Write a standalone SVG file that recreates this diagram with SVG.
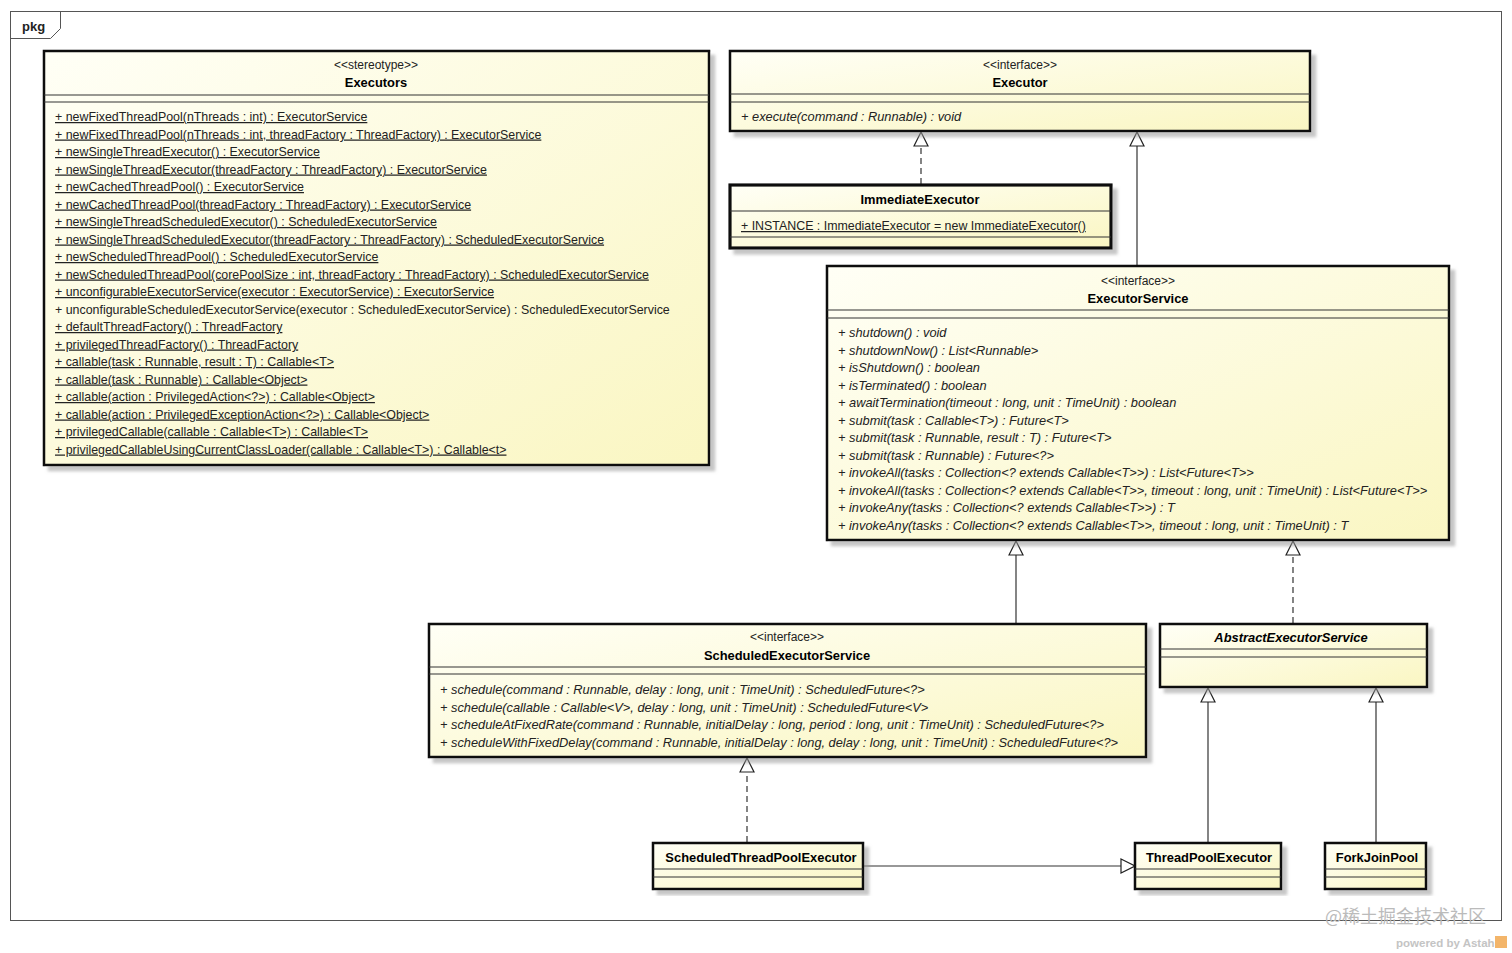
<svg xmlns="http://www.w3.org/2000/svg" width="1512" height="953" viewBox="0 0 1512 953">
<defs>
<linearGradient id="g" x1="0" y1="0" x2="1" y2="1">
<stop offset="0" stop-color="#FFFFF6"/>
<stop offset="1" stop-color="#FAF6C2"/>
</linearGradient>
<filter id="sh" x="-5%" y="-5%" width="115%" height="120%">
<feDropShadow dx="5" dy="5" stdDeviation="1.5" flood-color="#999" flood-opacity="0.55"/>
</filter>
<marker id="tri" viewBox="0 0 16 16" refX="15" refY="8" markerWidth="16" markerHeight="16" markerUnits="userSpaceOnUse" orient="auto">
<path d="M1,1 L15,8 L1,15 Z" fill="#fff" stroke="#222" stroke-width="1.2"/>
</marker>
</defs>
<style>
.box{fill:url(#g);stroke:#111;stroke-width:2.5;filter:url(#sh)}
.sep{stroke:#333;stroke-width:1.2;fill:none}
text{font-family:"Liberation Sans",Arial,sans-serif;font-size:12.4px;fill:#222}
.st{text-anchor:middle;font-size:12px}
.nm{text-anchor:middle;font-weight:bold;font-size:12.9px;fill:#000}
.u{text-decoration:underline}
.i{font-style:italic;font-size:12.8px}
.c{stroke:#333;stroke-width:1.2;fill:none;marker-end:url(#tri)}
.d{stroke-dasharray:6,4}
</style>
<rect x="0" y="0" width="1512" height="953" fill="#fff"/>
<g id="pkg">
<rect x="10.5" y="11.5" width="1491" height="909" fill="none" stroke="#555" stroke-width="1"/>
<path d="M10.5,38.5 L50.5,38.5 L60.5,28.5 L60.5,11.5" fill="none" stroke="#555" stroke-width="1"/>
<text x="22" y="31" style="font-weight:bold;font-size:13px">pkg</text>
</g>
<g id="connectors">
<line class="c d" x1="921" y1="184" x2="921" y2="132"/>
<line class="c" x1="1137" y1="265" x2="1137" y2="132"/>
<line class="c" x1="1016" y1="623" x2="1016" y2="541"/>
<line class="c d" x1="1293" y1="623" x2="1293" y2="541"/>
<line class="c d" x1="747" y1="842" x2="747" y2="758"/>
<line class="c" x1="864" y1="866" x2="1135" y2="866"/>
<line class="c" x1="1208" y1="842" x2="1208" y2="688"/>
<line class="c" x1="1376" y1="842" x2="1376" y2="688"/>
</g>
<g id="Executors">
<rect class="box" x="44" y="51" width="665" height="414"/>
<text class="st" x="376" y="69">&lt;&lt;stereotype&gt;&gt;</text>
<text class="nm" x="376" y="87">Executors</text>
<line class="sep" x1="44" y1="95" x2="709" y2="95"/>
<line class="sep" x1="44" y1="102" x2="709" y2="102"/>
<text class="u" x="55" y="121">+ newFixedThreadPool(nThreads : int) : ExecutorService</text>
<text class="u" x="55" y="138.5">+ newFixedThreadPool(nThreads : int, threadFactory : ThreadFactory) : ExecutorService</text>
<text class="u" x="55" y="156">+ newSingleThreadExecutor() : ExecutorService</text>
<text class="u" x="55" y="173.5">+ newSingleThreadExecutor(threadFactory : ThreadFactory) : ExecutorService</text>
<text class="u" x="55" y="191">+ newCachedThreadPool() : ExecutorService</text>
<text class="u" x="55" y="208.5">+ newCachedThreadPool(threadFactory : ThreadFactory) : ExecutorService</text>
<text class="u" x="55" y="226">+ newSingleThreadScheduledExecutor() : ScheduledExecutorService</text>
<text class="u" x="55" y="243.5">+ newSingleThreadScheduledExecutor(threadFactory : ThreadFactory) : ScheduledExecutorService</text>
<text class="u" x="55" y="261">+ newScheduledThreadPool() : ScheduledExecutorService</text>
<text class="u" x="55" y="278.5">+ newScheduledThreadPool(corePoolSize : int, threadFactory : ThreadFactory) : ScheduledExecutorService</text>
<text class="u" x="55" y="296">+ unconfigurableExecutorService(executor : ExecutorService) : ExecutorService</text>
<text x="55" y="313.5">+ unconfigurableScheduledExecutorService(executor : ScheduledExecutorService) : ScheduledExecutorService</text>
<text class="u" x="55" y="331">+ defaultThreadFactory() : ThreadFactory</text>
<text class="u" x="55" y="348.5">+ privilegedThreadFactory() : ThreadFactory</text>
<text class="u" x="55" y="366">+ callable(task : Runnable, result : T) : Callable&lt;T&gt;</text>
<text class="u" x="55" y="383.5">+ callable(task : Runnable) : Callable&lt;Object&gt;</text>
<text class="u" x="55" y="401">+ callable(action : PrivilegedAction&lt;?&gt;) : Callable&lt;Object&gt;</text>
<text class="u" x="55" y="418.5">+ callable(action : PrivilegedExceptionAction&lt;?&gt;) : Callable&lt;Object&gt;</text>
<text class="u" x="55" y="436">+ privilegedCallable(callable : Callable&lt;T&gt;) : Callable&lt;T&gt;</text>
<text class="u" x="55" y="453.5">+ privilegedCallableUsingCurrentClassLoader(callable : Callable&lt;T&gt;) : Callable&lt;t&gt;</text>
</g>
<g id="Executor">
<rect class="box" x="730" y="51" width="580" height="80"/>
<text class="st" x="1020" y="69">&lt;&lt;interface&gt;&gt;</text>
<text class="nm" x="1020" y="87">Executor</text>
<line class="sep" x1="730" y1="94" x2="1310" y2="94"/>
<line class="sep" x1="730" y1="102" x2="1310" y2="102"/>
<text class="i" x="741" y="121">+ execute(command : Runnable) : void</text>
</g>
<g id="ImmediateExecutor">
<rect class="box" x="730" y="185" width="381" height="63" style="stroke-width:3.2"/>
<text class="nm" x="920" y="204">ImmediateExecutor</text>
<line class="sep" x1="730" y1="211" x2="1111" y2="211"/>
<text class="u" x="741" y="230">+ INSTANCE : ImmediateExecutor = new ImmediateExecutor()</text>
<line class="sep" x1="730" y1="237" x2="1111" y2="237"/>
</g>
<g id="ExecutorService">
<rect class="box" x="827" y="266" width="622" height="274"/>
<text class="st" x="1138" y="285">&lt;&lt;interface&gt;&gt;</text>
<text class="nm" x="1138" y="303">ExecutorService</text>
<line class="sep" x1="827" y1="310" x2="1449" y2="310"/>
<line class="sep" x1="827" y1="318" x2="1449" y2="318"/>
<text class="i" x="838" y="337">+ shutdown() : void</text>
<text class="i" x="838" y="354.5">+ shutdownNow() : List&lt;Runnable&gt;</text>
<text class="i" x="838" y="372">+ isShutdown() : boolean</text>
<text class="i" x="838" y="389.5">+ isTerminated() : boolean</text>
<text class="i" x="838" y="407">+ awaitTermination(timeout : long, unit : TimeUnit) : boolean</text>
<text class="i" x="838" y="424.5">+ submit(task : Callable&lt;T&gt;) : Future&lt;T&gt;</text>
<text class="i" x="838" y="442">+ submit(task : Runnable, result : T) : Future&lt;T&gt;</text>
<text class="i" x="838" y="459.5">+ submit(task : Runnable) : Future&lt;?&gt;</text>
<text class="i" x="838" y="477">+ invokeAll(tasks : Collection&lt;? extends Callable&lt;T&gt;&gt;) : List&lt;Future&lt;T&gt;&gt;</text>
<text class="i" x="838" y="494.5">+ invokeAll(tasks : Collection&lt;? extends Callable&lt;T&gt;&gt;, timeout : long, unit : TimeUnit) : List&lt;Future&lt;T&gt;&gt;</text>
<text class="i" x="838" y="512">+ invokeAny(tasks : Collection&lt;? extends Callable&lt;T&gt;&gt;) : T</text>
<text class="i" x="838" y="529.5">+ invokeAny(tasks : Collection&lt;? extends Callable&lt;T&gt;&gt;, timeout : long, unit : TimeUnit) : T</text>
</g>
<g id="ScheduledExecutorService">
<rect class="box" x="429" y="624" width="717" height="133"/>
<text class="st" x="787" y="641">&lt;&lt;interface&gt;&gt;</text>
<text class="nm" x="787" y="660">ScheduledExecutorService</text>
<line class="sep" x1="429" y1="667" x2="1146" y2="667"/>
<line class="sep" x1="429" y1="674" x2="1146" y2="674"/>
<text class="i" x="440" y="694">+ schedule(command : Runnable, delay : long, unit : TimeUnit) : ScheduledFuture&lt;?&gt;</text>
<text class="i" x="440" y="711.5">+ schedule(callable : Callable&lt;V&gt;, delay : long, unit : TimeUnit) : ScheduledFuture&lt;V&gt;</text>
<text class="i" x="440" y="729">+ scheduleAtFixedRate(command : Runnable, initialDelay : long, period : long, unit : TimeUnit) : ScheduledFuture&lt;?&gt;</text>
<text class="i" x="440" y="746.5">+ scheduleWithFixedDelay(command : Runnable, initialDelay : long, delay : long, unit : TimeUnit) : ScheduledFuture&lt;?&gt;</text>
</g>
<g id="AbstractExecutorService">
<rect class="box" x="1160" y="624" width="267" height="63"/>
<text class="nm i" x="1291" y="642" style="font-size:12.9px">AbstractExecutorService</text>
<line class="sep" x1="1160" y1="649" x2="1427" y2="649"/>
<line class="sep" x1="1160" y1="657" x2="1427" y2="657"/>
</g>
<g id="ScheduledThreadPoolExecutor">
<rect class="box" x="653" y="843" width="210" height="46"/>
<text class="nm" x="761" y="862">ScheduledThreadPoolExecutor</text>
<line class="sep" x1="653" y1="869" x2="863" y2="869"/>
<line class="sep" x1="653" y1="877" x2="863" y2="877"/>
</g>
<g id="ThreadPoolExecutor">
<rect class="box" x="1135" y="843" width="146" height="46"/>
<text class="nm" x="1209" y="862">ThreadPoolExecutor</text>
<line class="sep" x1="1135" y1="869" x2="1281" y2="869"/>
<line class="sep" x1="1135" y1="877" x2="1281" y2="877"/>
</g>
<g id="ForkJoinPool">
<rect class="box" x="1325" y="843" width="101" height="46"/>
<text class="nm" x="1377" y="862">ForkJoinPool</text>
<line class="sep" x1="1325" y1="869" x2="1426" y2="869"/>
<line class="sep" x1="1325" y1="877" x2="1426" y2="877"/>
</g>
<g id="watermark">
<text x="1325" y="923" style="font-family:'Noto Sans CJK SC','Liberation Sans',sans-serif;font-size:18px;fill:#bbb">@稀土掘金技术社区</text>
<text x="1396" y="947" style="font-size:11.5px;font-weight:bold;fill:#c4c4c4">powered by Astah</text>
<rect x="1495" y="936" width="12" height="12" fill="#F3B56A"/>
</g>
</svg>
